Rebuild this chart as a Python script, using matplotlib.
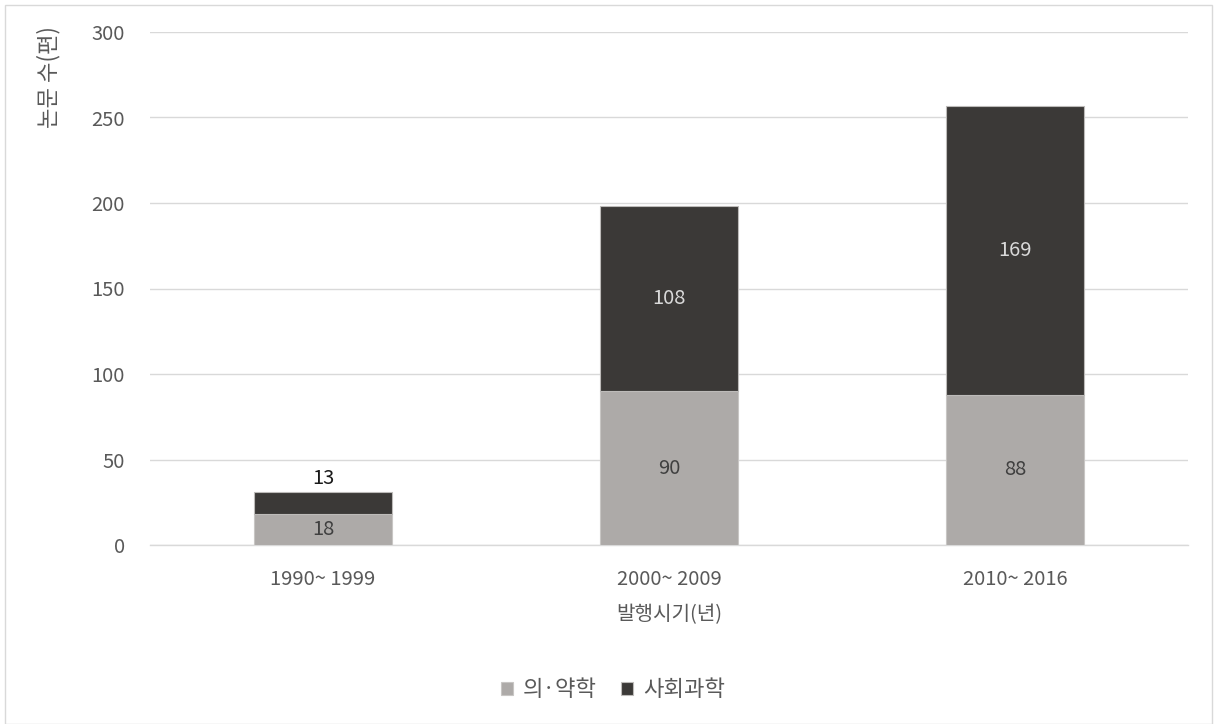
import matplotlib
matplotlib.use("Agg")
import matplotlib.pyplot as plt
from matplotlib.patches import Rectangle
import numpy as np

plt.rcParams['font.family'] = ['Noto Sans CJK KR', 'DejaVu Sans']

periods = ["1990~ 1999", "2000~ 2009", "2010~ 2016"]
medical = [18, 90, 88]
social = [13, 108, 169]
series_names = ["의·약학", "사회과학"]
y_ticks = [0, 50, 100, 150, 200, 250, 300]

light = "#ADAAA8"
dark = "#3B3937"
text_gray = "#595959"
fs = 14.5

fig = plt.figure(figsize=(12.14, 7.24), dpi=100)
ax = fig.add_axes([150 / 1214, 1 - 545 / 724, 1038 / 1214, 513 / 724])

x = np.arange(len(periods))
w = 0.396
b1 = ax.bar(x, medical, w, color=light, edgecolor="#C8C6C4", linewidth=0.8,
            label=series_names[0], zorder=3)
b2 = ax.bar(x, social, w, bottom=medical, color=dark, edgecolor="#BDBBB9",
            linewidth=0.8, label=series_names[1], zorder=3)

for i, (m, s) in enumerate(zip(medical, social)):
    ax.text(x[i], m / 2, str(m), ha="center", va="center", fontsize=fs,
            color="#404040", zorder=4)
    if s < 25:
        ax.text(x[i], m + s + 2.0, str(s), ha="center", va="bottom",
                fontsize=fs, color="#1A1A1A", zorder=4)
    else:
        ax.text(x[i], m + s / 2, str(s), ha="center", va="center",
                fontsize=fs, color="#D9D9D9", zorder=4)

ax.set_xlim(-0.5, 2.5)
ax.set_ylim(0, 300)
ax.set_yticks(y_ticks)
ax.set_yticklabels([str(t) for t in y_ticks])
ax.set_xticks(x)
ax.set_xticklabels(periods)
ax.tick_params(axis="both", length=0, labelsize=fs, colors=text_gray)
ax.tick_params(axis="y", pad=18)
ax.tick_params(axis="x", pad=17.5)
ax.yaxis.grid(True, color="#D9D9D9", linewidth=1.0, zorder=0)
ax.set_axisbelow(True)
for side in ["top", "right", "left"]:
    ax.spines[side].set_visible(False)
ax.spines["bottom"].set_color("#D9D9D9")
ax.spines["bottom"].set_linewidth(1.0)

ax.set_xlabel("발행시기(년)", fontsize=fs, color=text_gray, labelpad=10)
fig.text(49 / 1214, 1 - 26 / 724, "논문 수(편)", rotation=90, ha="center",
         va="top", fontsize=16, color=text_gray)

leg = fig.legend(handles=[b1, b2], labels=series_names, loc="center",
                 bbox_to_anchor=(613 / 1214, 1 - 690 / 724), ncol=2,
                 frameon=False, fontsize=16, handlelength=0.55, handleheight=0.55,
                 handletextpad=0.45, columnspacing=1.1)
for t in leg.get_texts():
    t.set_color(text_gray)

# thin frame around the chart area
fig.patches.append(Rectangle((5 / 1214, 0), 1207 / 1214, 1 - 5 / 724,
                             transform=fig.transFigure, fill=False,
                             edgecolor="#D9D9D9", linewidth=1.0))

fig.savefig("out.png", dpi=100)
